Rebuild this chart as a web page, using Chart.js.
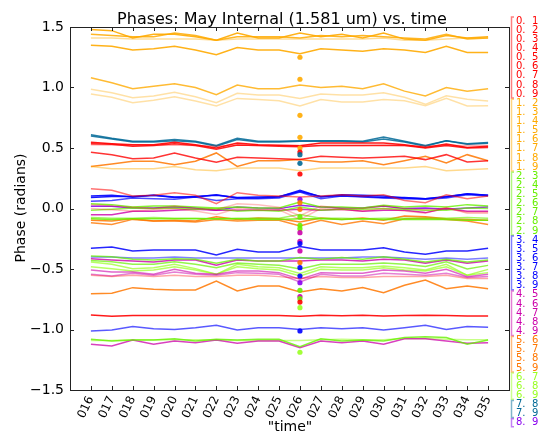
<!DOCTYPE html>
<html>
<head>
<meta charset="utf-8">
<script src="https://cdn.jsdelivr.net/npm/chart.js@4.4.0/dist/chart.umd.min.js"></script>
<style>
  body { margin: 0; background: #fff; }
  canvas { display: block; }
</style>
</head>
<body>
<canvas id="grafica" width="538" height="434"></canvas>
<script>
const times = ["016", "017", "018", "019", "020", "021", "022", "023", "024", "025",
               "026", "027", "028", "029", "030", "031", "032", "033", "034", "035"];

// baseline phases (radians), one array per antenna pair
const b01 = [0.547,0.536,0.527,0.527,0.547,0.527,0.500,0.541,0.527,0.522,0.519,0.541,0.541,0.541,0.541,0.527,0.505,0.533,0.505,0.514];
const b02 = [0.535,0.530,0.515,0.520,0.535,0.520,0.490,0.525,0.520,0.515,0.510,0.520,0.520,0.520,0.520,0.520,0.500,0.520,0.500,0.505];
const b03 = [0.527,0.525,0.520,0.520,0.525,0.520,0.515,0.525,0.520,0.520,0.520,0.520,0.520,0.520,0.525,0.520,0.515,0.520,0.520,0.520];
const b04 = [0.464,0.445,0.412,0.417,0.459,0.417,0.382,0.423,0.417,0.412,0.404,0.431,0.423,0.417,0.423,0.431,0.404,0.445,0.385,0.395];
const b05 = [0.164,0.150,0.103,0.109,0.131,0.109,0.040,0.131,0.109,0.103,0.095,0.103,0.114,0.103,0.114,0.067,0.048,0.114,0.081,0.103];
const b06 = [0.030,0.020,0.010,0.000,0.020,0.000,-0.010,0.040,0.030,0.010,-0.060,0.020,0.000,0.000,0.020,0.000,-0.010,0.000,-0.030,-0.030];
const b07 = [-0.552,-0.563,-0.552,-0.563,-0.552,-0.563,-0.563,-0.552,-0.552,-0.563,-0.579,-0.563,-0.571,-0.571,-0.563,-0.563,-0.563,-0.552,-0.579,-0.579];
const b08 = [-0.880,-0.890,-0.885,-0.885,-0.885,-0.885,-0.885,-0.885,-0.885,-0.885,-0.890,-0.883,-0.887,-0.883,-0.888,-0.885,-0.883,-0.885,-0.888,-0.888];
const b09 = [0.000,-0.010,-0.020,-0.010,0.000,-0.020,-0.050,0.000,-0.010,-0.010,-0.090,0.000,-0.010,-0.020,0.000,-0.020,-0.040,0.010,-0.040,-0.040];
const b12 = [1.480,1.470,1.410,1.440,1.440,1.420,1.390,1.450,1.410,1.410,1.450,1.420,1.440,1.410,1.450,1.400,1.390,1.430,1.410,1.420];
const b13 = [1.440,1.430,1.420,1.420,1.450,1.430,1.390,1.420,1.420,1.420,1.410,1.430,1.420,1.430,1.420,1.410,1.400,1.440,1.400,1.410];
const b14 = [1.410,1.410,1.400,1.400,1.400,1.400,1.390,1.400,1.400,1.400,1.400,1.400,1.400,1.400,1.410,1.390,1.390,1.400,1.410,1.410];
const b15 = [1.350,1.340,1.310,1.320,1.340,1.310,1.270,1.330,1.310,1.310,1.280,1.320,1.310,1.300,1.320,1.310,1.290,1.340,1.290,1.290];
const b16 = [1.080,1.040,0.990,1.010,1.030,1.000,0.940,1.020,0.990,0.990,1.020,1.000,1.010,0.990,1.030,0.970,0.930,1.000,0.970,0.990];
const b17 = [0.985,0.957,0.916,0.930,0.960,0.924,0.874,0.952,0.938,0.938,0.910,0.946,0.938,0.938,0.957,0.920,0.861,0.932,0.902,0.888];
const b18 = [0.946,0.919,0.874,0.894,0.924,0.888,0.847,0.910,0.900,0.890,0.847,0.900,0.880,0.880,0.900,0.890,0.850,0.910,0.847,0.850];
const b19 = [0.348,0.329,0.329,0.329,0.348,0.320,0.313,0.335,0.335,0.335,0.313,0.335,0.335,0.335,0.335,0.335,0.348,0.313,0.320,0.329];
const b23 = [0.040,0.032,0.013,0.021,0.021,0.013,0.004,0.013,0.004,0.004,0.054,0.013,0.013,0.004,0.026,0.013,0.021,0.013,0.032,0.021];
const b24 = [-0.015,-0.007,0.004,-0.001,0.004,-0.007,-0.001,-0.023,-0.015,-0.023,0.013,-0.015,-0.007,-0.007,-0.001,-0.007,-0.015,-0.015,0.004,-0.001];
const b25 = [-0.084,-0.090,-0.084,-0.084,-0.084,-0.084,-0.084,-0.084,-0.090,-0.090,-0.084,-0.084,-0.090,-0.084,-0.090,-0.090,-0.090,-0.090,-0.097,-0.097];
const b26 = [-0.075,-0.080,-0.080,-0.075,-0.080,-0.080,-0.085,-0.080,-0.080,-0.080,-0.050,-0.080,-0.080,-0.085,-0.080,-0.080,-0.080,-0.080,-0.075,-0.080];
const b27 = [-0.393,-0.398,-0.420,-0.426,-0.415,-0.420,-0.453,-0.420,-0.434,-0.434,-0.406,-0.420,-0.406,-0.420,-0.398,-0.420,-0.442,-0.420,-0.442,-0.426];
const b28 = [-0.430,-0.440,-0.460,-0.460,-0.440,-0.460,-0.490,-0.450,-0.460,-0.470,-0.500,-0.460,-0.460,-0.460,-0.450,-0.460,-0.480,-0.440,-0.500,-0.470];
const b29 = [-1.081,-1.095,-1.087,-1.087,-1.076,-1.095,-1.081,-1.087,-1.081,-1.081,-1.142,-1.076,-1.095,-1.087,-1.095,-1.067,-1.059,-1.067,-1.122,-1.087];
const b34 = [0.103,0.109,0.095,0.109,0.095,0.095,0.114,0.087,0.087,0.095,0.150,0.095,0.114,0.109,0.103,0.087,0.081,0.095,0.122,0.109];
const b35 = [0.060,0.067,0.087,0.081,0.076,0.095,0.067,0.081,0.081,0.087,0.136,0.081,0.103,0.095,0.087,0.081,0.076,0.087,0.114,0.103];
const b36 = [0.090,0.100,0.100,0.110,0.090,0.100,0.110,0.090,0.095,0.100,0.140,0.100,0.105,0.100,0.090,0.090,0.080,0.100,0.120,0.110];
const b37 = [-0.329,-0.318,-0.351,-0.343,-0.343,-0.343,-0.384,-0.337,-0.360,-0.360,-0.315,-0.343,-0.343,-0.343,-0.324,-0.360,-0.379,-0.351,-0.351,-0.329];
const b38 = [-0.400,-0.400,-0.410,-0.410,-0.400,-0.410,-0.410,-0.410,-0.410,-0.410,-0.410,-0.410,-0.410,-0.400,-0.400,-0.410,-0.420,-0.410,-0.420,-0.410];
const b39 = [-1.012,-1.004,-0.976,-0.993,-0.999,-0.985,-0.965,-1.004,-0.985,-0.985,-0.999,-0.985,-0.993,-0.985,-1.004,-0.985,-0.965,-0.999,-0.976,-0.982];
const b45 = [-0.051,-0.051,-0.023,-0.023,-0.015,-0.007,-0.015,-0.015,-0.015,-0.015,-0.007,-0.015,-0.007,-0.023,-0.015,-0.015,-0.034,-0.001,-0.023,-0.023];
const b46 = [-0.415,-0.426,-0.434,-0.442,-0.426,-0.426,-0.469,-0.426,-0.434,-0.434,-0.434,-0.426,-0.426,-0.434,-0.420,-0.426,-0.453,-0.426,-0.453,-0.434];
const b47 = [-0.508,-0.525,-0.525,-0.544,-0.503,-0.536,-0.544,-0.517,-0.517,-0.530,-0.585,-0.530,-0.536,-0.536,-0.508,-0.517,-0.536,-0.503,-0.563,-0.544];
const b48 = [-0.544,-0.558,-0.536,-0.552,-0.525,-0.544,-0.552,-0.530,-0.536,-0.544,-0.608,-0.544,-0.558,-0.558,-0.536,-0.544,-0.552,-0.536,-0.571,-0.563];
const b49 = [-1.122,-1.136,-1.087,-1.122,-1.095,-1.109,-1.087,-1.114,-1.095,-1.095,-1.150,-1.095,-1.109,-1.095,-1.122,-1.076,-1.076,-1.095,-1.114,-1.109];
const b56 = [0.348,0.368,0.390,0.390,0.362,0.390,0.459,0.348,0.395,0.395,0.404,0.384,0.384,0.395,0.362,0.395,0.431,0.376,0.445,0.395];
const b57 = [-0.097,-0.104,-0.084,-0.104,-0.097,-0.104,-0.069,-0.090,-0.079,-0.084,-0.111,-0.079,-0.090,-0.079,-0.097,-0.062,-0.069,-0.084,-0.090,-0.097];
const b58 = [-0.117,-0.133,-0.090,-0.104,-0.104,-0.111,-0.090,-0.104,-0.097,-0.097,-0.144,-0.097,-0.133,-0.104,-0.125,-0.084,-0.079,-0.090,-0.104,-0.133];
const b59 = [-0.704,-0.701,-0.654,-0.668,-0.673,-0.673,-0.600,-0.682,-0.640,-0.640,-0.690,-0.663,-0.682,-0.654,-0.696,-0.635,-0.591,-0.663,-0.640,-0.663];
const b67 = [-0.442,-0.461,-0.497,-0.489,-0.461,-0.497,-0.544,-0.461,-0.481,-0.489,-0.536,-0.481,-0.489,-0.489,-0.475,-0.489,-0.508,-0.461,-0.552,-0.503];
const b68 = [-0.481,-0.497,-0.517,-0.508,-0.481,-0.508,-0.544,-0.481,-0.497,-0.508,-0.558,-0.503,-0.508,-0.508,-0.489,-0.508,-0.517,-0.481,-0.552,-0.530];
const b69 = [-1.090,-1.090,-1.085,-1.085,-1.085,-1.085,-1.085,-1.090,-1.090,-1.090,-1.090,-1.085,-1.080,-1.085,-1.085,-1.075,-1.075,-1.080,-1.085,-1.085];
const b78 = [0.610,0.580,0.555,0.555,0.570,0.555,0.520,0.580,0.555,0.555,0.560,0.560,0.560,0.555,0.590,0.555,0.520,0.560,0.535,0.545];
const b79 = [0.600,0.575,0.550,0.550,0.560,0.550,0.515,0.570,0.550,0.550,0.555,0.555,0.555,0.550,0.575,0.550,0.515,0.560,0.530,0.540];
const b89 = [0.018,0.018,0.004,0.004,0.013,0.004,-0.015,0.013,0.004,-0.001,0.026,0.013,0.004,0.004,0.021,-0.001,0.004,-0.007,0.004,0.013];

// single points at scan 026
const dotValues = [1.250, 1.068, 0.770, 0.588, 0.500, 0.467, 0.445, 0.373, 0.285, 0.076, 0.048, -0.007,
                   -0.070, -0.139, -0.167, -0.200, -0.271, -0.290, -0.351, -0.447, -0.489, -0.558, -0.613,
                   -0.676, -0.728, -0.745, -0.773, -0.820, -1.012, -1.188];
const dotAnt = [1, 1, 1, 1, 1, 0, 7, 7, 0, 8, 5, 5, 2, 2, 2, 4, 4, 3, 4, 5, 3, 3, 8, 2, 4, 2, 0, 6, 3, 6];

const series = [
    ["0. 1", b01, 0.9], ["0. 2", b02, 0.85], ["0. 3", b03, 0.3], ["0. 4", b04, 0.8], ["0. 5", b05, 0.55],
    ["0. 6", b06, 0.25], ["0. 7", b07, 0.35], ["0. 8", b08, 0.9], ["0. 9", b09, 0.25],
    ["1. 2", b12, 0.9], ["1. 3", b13, 0.85], ["1. 4", b14, 0.4], ["1. 5", b15, 0.9], ["1. 6", b16, 0.8],
    ["1. 7", b17, 0.35], ["1. 8", b18, 0.35], ["1. 9", b19, 0.45],
    ["2. 3", b23, 0.8], ["2. 4", b24, 0.7], ["2. 5", b25, 0.85], ["2. 6", b26, 0.6], ["2. 7", b27, 0.75],
    ["2. 8", b28, 0.7], ["2. 9", b29, 0.8],
    ["3. 4", b34, 0.9], ["3. 5", b35, 0.7], ["3. 6", b36, 0.9], ["3. 7", b37, 0.85], ["3. 8", b38, 0.5], ["3. 9", b39, 0.65],
    ["4. 5", b45, 0.8], ["4. 6", b46, 0.8], ["4. 7", b47, 0.6], ["4. 8", b48, 0.5], ["4. 9", b49, 0.75],
    ["5. 6", b56, 0.85], ["5. 7", b57, 0.85], ["5. 8", b58, 0.8], ["5. 9", b59, 0.85],
    ["6. 7", b67, 0.7], ["6. 8", b68, 0.7], ["6. 9", b69, 0.55],
    ["7. 8", b78, 0.85], ["7. 9", b79, 0.85],
    ["8. 9", b89, 0.85]
];

const antColors = ["255,0,0", "255,170,0", "102,240,0", "0,0,255", "204,0,170",
                   "255,119,0", "153,255,34", "0,105,150", "136,0,238"];
const rgba = (a, al) => "rgba(" + antColors[a] + "," + al + ")";

let datasets = series.map(s => ({
    label: s[0],
    data: s[1].map((v, i) => ({ x: i, y: v })),
    borderColor: rgba(+s[0][0], s[2]),
    borderWidth: 1.5,
    pointRadius: 0,
    fill: false
}));

datasets.push({
    type: "scatter",
    label: "026",
    data: dotValues.map(v => ({ x: times.indexOf("026"), y: v })),
    pointRadius: 2.6,
    pointBorderWidth: 0,
    pointBackgroundColor: dotAnt.map(a => rgba(a, 0.9)),
    showLine: false,
    order: -1
});

const marco = {
    id: "marco",
    afterDraw(chart) {
        let c = chart.ctx;
        let a = chart.chartArea;
        let x = chart.scales.x, y = chart.scales.y;
        c.save();
        c.strokeStyle = "#222";
        c.lineWidth = 1;
        c.strokeRect(Math.round(a.left) + 0.5, Math.round(a.top) + 0.5,
                     Math.round(a.right - a.left), Math.round(a.bottom - a.top));
        c.beginPath();
        for (let v = -1.5; v <= 1.5; v += 0.5) {
            let py = Math.round(y.getPixelForValue(v)) + 0.5;
            c.moveTo(a.left, py); c.lineTo(a.left + 4, py);
            c.moveTo(a.right, py); c.lineTo(a.right - 4, py);
        }
        times.forEach((t, i) => {
            let px = Math.round(x.getPixelForValue(i)) + 0.5;
            c.moveTo(px, a.bottom); c.lineTo(px, a.bottom - 4);
            c.moveTo(px, a.top); c.lineTo(px, a.top + 4);
        });
        c.stroke();

        // titulos
        c.fillStyle = "#000";
        c.font = "16px 'DejaVu Sans'";
        c.textAlign = "center";
        c.textBaseline = "alphabetic";
        c.fillText("Phases: May Internal (1.581 um) vs. time", 282, 24);
        c.font = "14px 'DejaVu Sans'";
        c.fillText('"time"', 290, 431);
        c.save();
        c.translate(25, 208);
        c.rotate(-Math.PI / 2);
        c.fillText("Phase (radians)", 0, 0);
        c.restore();

        // leyenda
        c.font = "10px 'DejaVu Sans'";
        c.textAlign = "left";
        c.textBaseline = "middle";
        let paso = 9.13, y0 = 21;
        let grupos = {};
        series.forEach((s, i) => {
            let ant = +s[0][0];
            let ly = y0 + i * paso;
            c.fillStyle = rgba(ant, 1);
            c.fillText(s[0].slice(0, 2), 516, ly);
            c.fillText(s[0].slice(3), 532, ly);
            if (!grupos[ant]) grupos[ant] = [ly, ly];
            grupos[ant][1] = ly;
        });
        c.lineWidth = 1.5;
        Object.keys(grupos).forEach(ant => {
            let g = grupos[ant];
            c.strokeStyle = rgba(ant, 0.5);
            c.beginPath();
            c.moveTo(514, g[0] - 4);
            c.lineTo(511.5, g[0] - 4);
            c.lineTo(511.5, g[1] + 4);
            c.lineTo(514, g[1] + 4);
            c.stroke();
        });
        c.restore();
    }
};

let ctx = document.getElementById("grafica").getContext("2d");

let grafica = new Chart(ctx, {
    type: "line",
    data: { datasets: datasets },
    options: {
        responsive: false,
        animation: false,
        devicePixelRatio: 1,
        layout: { padding: { top: 27, right: 29, left: 0, bottom: 0 } },
        plugins: { legend: { display: false }, tooltip: { enabled: false } },
        scales: {
            x: {
                type: "linear",
                min: -1,
                max: 20,
                grid: { display: false, drawTicks: false },
                border: { display: false },
                afterBuildTicks: s => { s.ticks = times.map((t, i) => ({ value: i })); },
                afterFit: s => { s.height = 44; },
                ticks: {
                    autoSkip: false,
                    minRotation: 65,
                    maxRotation: 65,
                    padding: 4,
                    color: "#000",
                    font: { family: "DejaVu Sans", size: 12 },
                    callback: v => times[v]
                }
            },
            y: {
                min: -1.5,
                max: 1.5,
                grid: { display: false, drawTicks: false },
                border: { display: false },
                afterFit: s => { s.width = 70; },
                ticks: {
                    stepSize: 0.5,
                    padding: 6,
                    color: "#000",
                    font: { family: "DejaVu Sans", size: 14 },
                    callback: v => v.toFixed(1).replace("-", "\u2212")
                }
            }
        }
    },
    plugins: [marco]
});
</script>
</body>
</html>
